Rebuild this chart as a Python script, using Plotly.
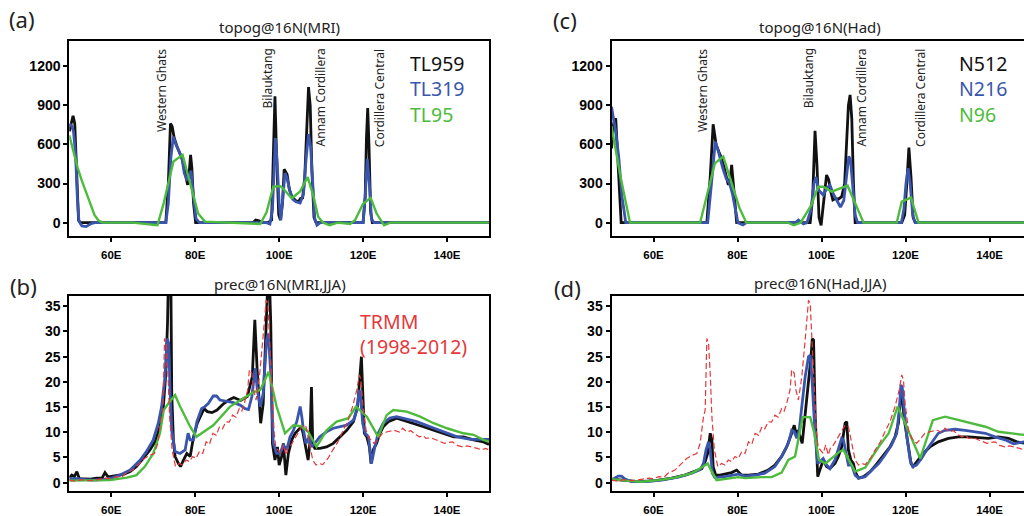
import plotly.graph_objects as go

# ---------------- topography along 16N (m) ----------------
# MRI model resolutions
A_LON_TL959 = [50.0, 50.5, 50.9, 51.3, 51.7, 52.2, 52.6, 73.0, 73.6, 74.1, 74.5, 75.0, 75.6, 76.3, 77.0, 77.6,
               78.2, 78.6, 78.9, 79.2, 79.6, 80.1, 93.8, 94.4, 95.2, 95.8, 97.4, 98.2, 98.6, 99.0, 99.4, 99.9,
               100.3, 100.8, 101.2, 101.6, 101.9, 102.4, 103.0, 103.9, 104.6, 105.1, 105.6, 106.1, 106.6, 107.0,
               107.4, 107.8, 108.3, 108.8, 120.0, 120.5, 120.8, 121.1, 121.4, 121.8, 122.2, 150.0]
A_VAL_TL959 = [700, 780, 820, 760, 450, 20, 0, 0, 300, 760, 740, 650, 590, 540, 480, 380,
               290, 400, 520, 420, 150, 0, 0, 20, 15, 0, 0, 20, 500, 970, 500, 60,
               20, 150, 410, 390, 370, 260, 200, 170, 160, 185, 190, 350, 800, 1040,
               900, 400, 40, 0, 0, 200, 650, 880, 600, 80, 0, 0]

A_LON_TL319 = [50.0, 50.6, 51.0, 51.5, 51.9, 52.3, 53.0, 54.0, 55.0, 56.0, 73.0, 73.6, 74.2, 74.8, 75.4, 76.0,
               76.8, 77.4, 78.0, 78.6, 79.0, 79.6, 80.2, 81.0, 97.0, 97.8, 98.4, 98.8, 99.1, 99.5, 100.0, 100.4,
               100.9, 101.4, 101.9, 102.5, 103.2, 104.0, 105.0, 105.8, 106.4, 107.0, 107.5, 108.0, 108.5, 109.0,
               109.8, 120.0, 120.5, 121.0, 121.5, 122.0, 122.6, 150.0]
A_VAL_TL319 = [760, 740, 700, 520, 200, 10, -25, -30, -10, 0, 0, 150, 500, 660, 600, 560,
               500, 380, 330, 340, 400, 200, 30, 0, 0, -10, 100, 400, 650, 480, 150, 20,
               200, 380, 340, 250, 180, 160, 150, 220, 480, 680, 580, 250, 30, -20,
               0, 0, 200, 490, 300, 30, 0, 0]

A_LON_TL95 = [50.0, 51.0, 52.0, 53.0, 54.0, 55.0, 56.0, 57.0, 58.0, 65.0, 71.0, 72.5, 74.8, 77.0, 79.0, 80.7,
              82.3, 88.0, 95.5, 97.0, 98.6, 100.3, 101.0, 103.0, 105.0, 106.8, 108.2, 109.3, 110.5, 112.0,
              114.0, 116.9, 118.1, 120.0, 121.8, 123.2, 125.0, 126.5, 150.0]
A_VAL_TL95 = [670, 540, 420, 320, 230, 140, 60, 15, 0, 0, -20, 150, 470, 520, 280, 70,
              8, 0, -10, 80, 276, 280, 260, 187, 240, 350, 200, 46, 0, -20,
              0, -10, 20, 145, 190, 72, -20, 0, 0]

# HadGEM model resolutions
C_LON_N512 = [50.0, 50.5, 51.0, 51.5, 52.3, 72.7, 73.5, 74.2, 74.9, 75.6, 76.2, 77.0, 77.8, 78.3, 78.6, 79.0,
              79.8, 96.0, 97.3, 97.9, 98.45, 98.9, 99.4, 99.9, 100.5, 101.2, 101.7, 102.1, 102.7, 103.3, 104.0,
              104.8, 105.5, 106.0, 106.4, 106.8, 107.2, 107.6, 108.0, 119.1, 119.8, 120.3, 120.8, 121.3, 121.8,
              122.3, 150.0]
C_VAL_N512 = [570, 760, 800, 450, 0, 0, 350, 755, 600, 540, 494, 400, 289, 350, 443, 300,
              0, 0, 0, 200, 704, 450, 40, -20, 150, 366, 330, 250, 175, 185, 180,
              200, 300, 600, 900, 980, 800, 300, 0, 0, 60, 300, 576, 350, 40,
              0, 0]

C_LON_N216 = [50.0, 50.5, 51.0, 51.7, 52.5, 53.4, 72.9, 73.8, 74.7, 75.3, 75.9, 76.5, 77.3, 78.1, 78.8, 79.5,
              80.1, 81.3, 82.1, 93.8, 94.5, 95.7, 96.5, 97.5, 98.2, 98.7, 99.3, 100.4, 101.2, 102.0, 102.8,
              103.5, 104.5, 105.3, 105.9, 106.5, 106.9, 107.4, 108.0, 108.6, 119.0, 119.6, 120.1, 120.6,
              121.1, 121.7, 122.3, 150.0]
C_VAL_N216 = [890, 800, 700, 510, 200, 0, 0, 300, 622, 563, 480, 417, 340, 302, 220, 110,
              0, -18, 0, 0, 20, -10, 0, 100, 300, 350, 250, 212, 260, 290, 220,
              180, 120, 170, 350, 510, 480, 300, 60, 0, 0, 100, 300, 417,
              300, 60, 0, 0]

C_LON_N96 = [50.0, 52.1, 54.4, 71.1, 74.6, 76.6, 80.5, 82.1, 92.0, 93.4, 95.0, 97.5, 99.2, 100.4, 102.4,
             106.2, 110.0, 117.9, 119.1, 121.3, 123.1, 150.0]
C_VAL_N96 = [740, 360, 0, 0, 455, 507, 110, 0, 0, -20, 0, 130, 276, 276, 238,
             284, 0, 0, 161, 192, 0, 0]

# ---------------- JJA precipitation along 16N (mm/day) ----------------
B_LON_TL959 = [50.0, 50.6, 51.2, 51.8, 52.4, 53.5, 55.0, 56.5, 57.8, 58.5,
               59.2, 59.7, 61.3, 62.9, 64.5, 66.0, 67.6, 69.2, 70.4, 71.6,
               72.4, 73.0, 73.4, 73.6, 74.2, 74.4, 74.8, 75.2, 76.0, 76.5,
               77.2, 78.0, 78.8, 79.2, 79.6, 80.5, 81.3, 82.1, 82.9, 84.0,
               85.2, 86.8, 88.0, 89.2, 90.8, 92.4, 93.6, 94.2, 94.8, 95.6,
               96.2, 96.8, 97.3, 97.7, 98.0, 98.4, 99.0, 99.6, 100.0, 100.6,
               101.0, 101.6, 102.2, 103.0, 103.8, 104.5, 105.3, 105.7, 106.4, 106.9,
               107.3, 107.7, 108.0, 108.5, 109.7, 111.3, 112.9, 114.5, 116.1, 117.7,
               118.7, 119.3, 119.6, 119.9, 120.3, 120.9, 121.5, 121.9, 122.4, 123.2,
               124.0, 124.8, 126.0, 128.0, 129.6, 132.0, 134.4, 136.8, 139.2, 141.6,
               143.9, 146.3, 148.7, 150.0]
B_VAL_TL959 = [1.0, 1.5, 1.2, 2.2, 0.8, 0.8, 0.7, 0.9, 0.9, 2.0,
               1.2, 1.2, 1.4, 1.65, 2.2, 3.2, 4.8, 6.5, 8.1, 11.1,
               15.0, 21.7, 31.6, 40.0, 40.0, 18.0, 8.5, 5.2, 3.8, 3.2,
               4.5, 5.8, 5.2, 6.8, 9.1, 11.8, 13.1, 14.7, 14.1, 13.9,
               14.4, 15.7, 16.4, 16.9, 16.3, 17.1, 21.0, 32.3, 21.7, 11.8,
               15.7, 28.3, 40.0, 40.0, 31.6, 7.8, 4.5, 7.1, 3.5, 5.2,
               7.8, 1.5, 5.8, 8.5, 9.8, 10.4, 11.1, 9.8, 6.5, 4.5,
               7.8, 19.0, 7.8, 6.8, 6.8, 7.1, 7.8, 9.1, 10.4, 12.1,
               15.1, 21.7, 25.0, 18.4, 9.8, 9.1, 7.1, 3.8, 6.5, 7.8,
               9.8, 11.1, 12.1, 12.8, 12.4, 11.8, 11.1, 10.4, 9.8, 9.1,
               9.1, 8.5, 8.1, 7.6]

B_LON_TL319 = [50.0, 52.0, 54.0, 55.7, 58.0, 60.0, 62.1, 64.5, 66.9, 68.4,
               70.0, 71.2, 72.0, 72.8, 73.3, 73.7, 74.0, 74.4, 75.2, 76.4,
               77.6, 78.3, 78.8, 79.6, 80.4, 81.5, 82.3, 83.1, 84.3, 85.1,
               85.9, 87.5, 89.1, 90.7, 91.9, 92.7, 93.5, 94.3, 94.8, 95.5,
               96.2, 97.0, 97.4, 98.0, 98.6, 99.4, 100.2, 101.0, 101.8, 102.6,
               103.4, 104.2, 105.0, 105.4, 105.8, 106.4, 107.2, 107.7, 108.5, 109.7,
               111.3, 112.9, 114.5, 116.1, 117.7, 118.5, 119.1, 119.4, 119.9, 120.5,
               121.3, 122.0, 122.8, 123.6, 124.8, 126.4, 128.0, 129.6, 132.8, 136.0,
               139.2, 142.4, 145.6, 148.7, 150.0]
B_VAL_TL319 = [0.8, 0.8, 0.6, 0.5, 0.6, 0.9, 1.5, 2.5, 4.5, 6.2,
               8.5, 11.8, 15.1, 21.0, 28.6, 27.6, 18.4, 10.4, 6.2, 5.8,
               6.5, 9.8, 8.5, 8.5, 12.1, 14.7, 15.1, 15.7, 17.2, 17.2,
               16.4, 16.1, 15.9, 15.4, 14.7, 14.5, 17.1, 22.7, 18.4, 15.1,
               17.7, 28.3, 29.6, 21.7, 7.8, 5.8, 5.8, 7.5, 6.5, 9.1,
               10.4, 12.1, 15.1, 13.1, 10.4, 7.8, 9.1, 7.1, 7.8, 9.1,
               10.1, 10.8, 11.1, 11.4, 12.4, 14.4, 18.4, 17.1, 11.8, 9.8,
               9.1, 3.8, 7.1, 9.8, 11.8, 12.8, 13.1, 12.8, 12.1, 11.1,
               10.1, 9.1, 8.6, 8.6, 8.6]

B_LON_TL95 = [50.0, 55.7, 59.7, 63.7, 66.0, 68.0, 70.0, 71.6, 72.5, 73.6,
              75.2, 76.4, 78.8, 80.3, 84.3, 88.3, 92.4, 94.0, 95.5, 97.5,
              99.4, 101.4, 103.4, 105.3, 106.9, 108.9, 111.3, 113.7, 116.5, 118.3,
              120.9, 123.6, 125.6, 127.2, 130.4, 133.6, 136.8, 140.0, 143.9, 146.3,
              148.7, 150.0]
B_VAL_TL95 = [0.4, 0.4, 0.5, 1.0, 1.5, 3.2, 5.8, 9.8, 14.4, 15.7,
              17.4, 15.1, 11.1, 9.1, 11.4, 15.1, 17.1, 18.0, 18.4, 22.0,
              15.1, 9.8, 11.4, 11.2, 10.1, 7.1, 10.4, 12.1, 12.8, 15.1,
              13.1, 9.1, 13.4, 14.4, 14.1, 13.1, 11.8, 10.8, 9.8, 9.5,
              8.5, 8.1]

D_LON_N512 = [50.0, 53.2, 56.4, 60.4, 64.3, 67.5, 69.9, 71.5, 72.3, 72.9,
              73.5, 73.9, 74.2, 74.8, 75.8, 77.0, 78.6, 79.8, 80.2, 81.0,
              82.6, 85.0, 87.3, 88.9, 90.5, 91.7, 92.9, 93.5, 93.9, 94.3,
              94.9, 95.4, 95.8, 96.4, 97.0, 97.5, 97.8, 98.1, 98.5, 99.1,
              99.6, 100.4, 101.2, 102.0, 103.2, 104.0, 104.8, 105.2, 105.6, 106.0,
              106.4, 107.0, 107.6, 108.0, 108.8, 110.0, 111.6, 113.2, 114.7, 116.3,
              117.5, 118.3, 118.9, 119.2, 119.6, 120.1, 120.7, 121.3, 121.8, 123.0,
              124.2, 125.8, 127.8, 130.2, 132.6, 135.0, 137.4, 139.7, 142.1, 144.5,
              146.5, 148.1, 150.0]
D_VAL_N512 = [0.7, 0.4, 0.2, 0.4, 0.9, 1.5, 2.2, 2.8, 4.2, 5.8,
              9.8, 8.5, 3.2, 1.5, 1.5, 1.7, 2.0, 2.5, 2.2, 1.5,
              1.5, 1.7, 2.5, 3.5, 5.2, 7.1, 9.8, 11.4, 9.8, 10.4,
              9.1, 7.8, 11.1, 15.7, 20.4, 25.0, 28.6, 28.3, 13.1, 1.2,
              2.5, 4.5, 3.2, 2.8, 3.8, 5.2, 7.1, 9.1, 11.8, 12.1,
              6.5, 4.5, 3.8, 2.2, 0.9, 1.2, 2.2, 3.8, 5.5, 7.1,
              9.1, 11.8, 17.1, 18.4, 13.1, 10.4, 6.5, 3.8, 3.2, 4.5,
              5.8, 7.1, 8.1, 8.8, 9.1, 9.1, 9.0, 8.8, 9.1, 8.8,
              8.1, 7.9, 7.6]

D_LON_N216 = [50.0, 50.8, 51.6, 52.4, 53.2, 54.8, 58.0, 61.9, 65.9, 69.1,
              71.1, 71.9, 72.5, 73.1, 73.5, 74.0, 74.6, 77.0, 79.4, 80.2,
              81.8, 84.2, 86.5, 88.9, 90.5, 92.1, 92.9, 93.5, 94.1, 94.7,
              95.3, 96.1, 96.9, 97.3, 97.7, 98.0, 98.5, 99.1, 99.9, 100.4,
              101.2, 102.0, 103.2, 104.0, 104.8, 105.2, 105.8, 106.4, 107.2, 108.0,
              108.8, 110.4, 112.0, 113.6, 115.1, 116.7, 117.9, 118.5, 118.9, 119.2,
              119.7, 120.3, 121.1, 121.7, 122.6, 123.8, 125.0, 126.6, 127.8, 129.4,
              131.8, 134.2, 136.6, 139.0, 141.3, 143.7, 145.7, 147.3, 148.1, 150.0]
D_VAL_N216 = [0.5, 0.9, 1.3, 1.3, 0.7, 0.2, 0.2, 0.5, 1.1, 1.9,
              2.6, 3.8, 6.5, 8.1, 6.5, 1.9, 1.0, 1.2, 1.5, 1.7,
              1.3, 1.5, 1.9, 3.2, 5.2, 7.8, 10.4, 10.1, 8.8, 10.4,
              15.1, 21.0, 25.0, 25.3, 21.0, 17.0, 9.0, 3.8, 4.5, 4.8,
              3.5, 2.8, 4.5, 6.5, 8.8, 8.5, 5.8, 3.5, 3.5, 1.5,
              0.9, 1.2, 2.5, 3.8, 5.5, 7.5, 9.8, 14.4, 19.4, 19.0,
              14.4, 9.1, 4.5, 3.2, 3.5, 4.8, 6.5, 8.5, 9.8, 10.4,
              10.6, 10.4, 10.1, 9.8, 9.1, 8.5, 7.7, 7.9, 8.1, 8.0]

D_LON_N96 = [50.0, 53.2, 57.2, 61.2, 65.1, 69.1, 71.1, 72.9, 73.5, 75.0,
             80.2, 81.8, 85.8, 88.1, 90.5, 92.1, 93.7, 95.5, 97.3, 98.3,
             99.4, 100.9, 104.4, 105.2, 108.0, 110.4, 113.6, 116.0, 118.1, 119.9,
             123.5, 126.5, 129.4, 132.6, 135.8, 139.0, 142.1, 145.3, 148.1, 150.0]
D_VAL_N96 = [0.7, 0.4, 0.2, 0.5, 1.0, 1.9, 2.8, 3.8, 2.8, 0.5,
             1.1, 0.9, 1.1, 1.1, 2.0, 4.5, 5.2, 13.0, 13.0, 9.8,
             4.5, 3.8, 6.2, 6.5, 2.2, 3.0, 7.1, 9.8, 15.1, 11.8,
             4.8, 12.4, 13.1, 12.4, 11.8, 11.1, 10.1, 9.8, 9.5, 9.3]

# TRMM observation (1998-2012), shown in both precipitation panels
TRMM_LON = [50.0, 51.5, 53.0, 54.5, 56.0, 57.5, 58.8, 60.0, 61.2, 62.5,
            63.5, 65.1, 66.7, 67.9, 69.1, 70.3, 71.1, 71.9, 72.3, 72.7,
            73.1, 73.5, 73.9, 74.5, 75.3, 76.2, 77.0, 77.8, 78.6, 79.4,
            80.2, 81.0, 81.8, 82.6, 83.4, 84.2, 85.0, 85.8, 86.5, 87.3,
            88.1, 88.9, 89.7, 90.5, 91.1, 91.7, 92.5, 92.9, 93.5, 93.9,
            94.5, 95.3, 96.1, 96.9, 97.3, 97.8, 98.3, 98.8, 99.2, 100.4,
            101.0, 101.6, 102.2, 102.8, 104.0, 104.8, 105.6, 106.4, 107.2, 108.0,
            108.8, 109.6, 110.4, 111.6, 112.8, 114.0, 115.1, 116.3, 117.5, 118.5,
            119.1, 119.5, 119.9, 120.7, 121.5, 122.6, 123.4, 124.6, 125.8, 127.4,
            128.8, 129.4, 130.4, 131.4, 132.4, 133.4, 134.4, 135.0, 136.2, 137.4,
            138.4, 139.4, 140.4, 141.3, 142.4, 143.7, 144.8, 146.1, 147.2, 148.3,
            149.2, 150.0]
TRMM_VAL = [0.5, 0.3, 0.6, 0.4, 0.5, 0.7, 0.9, 0.8, 1.2, 1.1,
            1.9, 2.5, 3.8, 4.8, 5.4, 5.8, 7.8, 13.1, 14.4, 28.6,
            27.6, 21.7, 13.1, 6.5, 3.2, 3.8, 3.5, 4.5, 4.2, 5.2,
            4.8, 6.2, 5.8, 8.1, 7.6, 9.8, 9.4, 11.1, 10.7, 12.1,
            12.0, 13.4, 13.0, 14.7, 14.2, 15.7, 18.4, 22.4, 21.7, 18.4,
            16.4, 21.0, 28.3, 36.2, 35.6, 28.3, 18.4, 10.0, 7.0, 5.8,
            7.5, 5.5, 7.1, 7.4, 9.1, 10.4, 11.4, 11.1, 7.8, 4.5,
            3.5, 3.8, 3.6, 4.8, 6.5, 8.1, 10.1, 12.1, 15.1, 18.4,
            21.4, 20.4, 15.7, 10.4, 8.8, 7.8, 8.5, 9.8, 10.1, 10.4,
            10.0, 10.8, 10.1, 10.3, 9.6, 9.1, 9.3, 8.8, 8.9, 8.5,
            8.1, 7.8, 8.0, 8.1, 7.4, 7.1, 7.3, 7.1, 6.8, 6.5,
            6.8, 6.5]

# axis ticks
LON_TICKS = [60, 80, 100, 120, 140]
LON_LABELS = ["60E", "80E", "100E", "120E", "140E"]
TOPO_TICKS = [0, 300, 600, 900, 1200]
PREC_TICKS = [0, 5, 10, 15, 20, 25, 30, 35]

# mountain ranges crossed by 16N
RANGES_MRI = [("Western Ghats", 71.8), ("Bilauktang", 97.3), ("Annam Cordillera", 109.9),
              ("Cordillera Central", 123.9)]
RANGES_HAD = [("Western Ghats", 71.5), ("Bilauktang", 96.9), ("Annam Cordillera", 109.6),
              ("Cordillera Central", 123.5)]

MRI_KEYS = ["TL959", "TL319", "TL95"]
HAD_KEYS = ["N512", "N216", "N96"]

BLACK = "#111111"
BLUE = "#3a55ad"
GREEN = "#4dbb3c"
RED = "#e5383b"

W, H = 1024, 516

fig = go.Figure()


def add_line(lon, val, color, ax, width=2.8, dash=None):
    fig.add_trace(go.Scatter(
        x=lon, y=val, mode="lines", xaxis="x" + ax, yaxis="y" + ax,
        line=dict(color=color, width=width, dash=dash), hoverinfo="skip", showlegend=False))


# (a) topography, MRI
add_line(A_LON_TL959, A_VAL_TL959, BLACK, "")
add_line(A_LON_TL319, A_VAL_TL319, BLUE, "")
add_line(A_LON_TL95, A_VAL_TL95, GREEN, "", width=2.4)
# (b) precipitation, MRI
add_line(B_LON_TL959, B_VAL_TL959, BLACK, "2")
add_line(B_LON_TL319, B_VAL_TL319, BLUE, "2")
add_line(B_LON_TL95, B_VAL_TL95, GREEN, "2", width=2.4)
add_line(TRMM_LON, TRMM_VAL, RED, "2", width=1.2, dash="6px,3px")
# (c) topography, HadGEM
add_line(C_LON_N512, C_VAL_N512, BLACK, "3")
add_line(C_LON_N216, C_VAL_N216, BLUE, "3")
add_line(C_LON_N96, C_VAL_N96, GREEN, "3", width=2.4)
# (d) precipitation, HadGEM
add_line(D_LON_N512, D_VAL_N512, BLACK, "4")
add_line(D_LON_N216, D_VAL_N216, BLUE, "4")
add_line(D_LON_N96, D_VAL_N96, GREEN, "4", width=2.4)
add_line(TRMM_LON, TRMM_VAL, RED, "4", width=1.2, dash="6px,3px")

LEFT_X = [69.3 / W, 489.0 / W]
RIGHT_X = [611.5 / W, 1.0]
TOP_Y = [1 - 235.7 / H, 1 - 40.7 / H]
BOT_Y = [1 - 491.0 / H, 1 - 295.7 / H]

tick_x_font = dict(family="Liberation Sans", size=11.5, color="black", weight="bold")
tick_y_font = dict(family="Liberation Sans", size=14, color="black", weight="bold")


def xaxis(domain, anchor, rng):
    return dict(domain=domain, anchor=anchor, range=rng, tickvals=LON_TICKS, ticktext=LON_LABELS,
                showline=True, linecolor="black", linewidth=2, mirror=True, ticks="outside",
                ticklen=4, tickwidth=1.5, tickcolor="black", showgrid=False, zeroline=False,
                tickfont=tick_x_font, ticklabelstandoff=3)


def yaxis(domain, anchor, rng, ticks, mirror):
    return dict(domain=domain, anchor=anchor, range=rng, tickvals=ticks,
                showline=True, linecolor="black", linewidth=2, mirror=mirror, ticks="outside",
                ticklen=4, tickwidth=1.5, tickcolor="black", showgrid=False, zeroline=False,
                tickfont=tick_y_font)


fig.update_layout(
    width=W, height=H, margin=dict(l=0, r=0, t=0, b=0),
    paper_bgcolor="white", plot_bgcolor="white", showlegend=False,
    xaxis=xaxis(LEFT_X, "y", [50, 150]),
    yaxis=yaxis(TOP_Y, "x", [-100, 1396], TOPO_TICKS, True),
    xaxis2=xaxis(LEFT_X, "y2", [50, 150]),
    yaxis2=yaxis(BOT_Y, "x2", [-1.65, 37.1], PREC_TICKS, True),
    xaxis3=xaxis(RIGHT_X, "y3", [50, 148.2]),
    yaxis3=yaxis(TOP_Y, "x3", [-100, 1396], TOPO_TICKS, False),
    xaxis4=xaxis(RIGHT_X, "y4", [50, 148.2]),
    yaxis4=yaxis(BOT_Y, "x4", [-1.65, 37.1], PREC_TICKS, False),
)

ann = []


def text(s, px, py, size, color="#222222", xanchor="center", yanchor="middle"):
    ann.append(dict(text=s, x=px / W, y=1 - py / H, xref="paper", yref="paper", showarrow=False,
                    xanchor=xanchor, yanchor=yanchor, align="left", borderpad=0,
                    font=dict(family="Noto Sans", size=size, color=color)))


# panel letters and titles
text("(a)", 21.5, 19, 22)
text("(b)", 23, 286, 22)
text("(c)", 565, 20, 22)
text("(d)", 567, 288, 22)
text("topog@16N(MRI)", 279, 27, 15)
text("prec@16N(MRI,JJA)", 279.5, 284.3, 15)
text("topog@16N(Had)", 820.3, 27, 15)
text("prec@16N(Had,JJA)", 820, 283.3, 15)

# series keys, one coloured line per resolution
KEY_COLORS = [BLACK, BLUE, GREEN]


def key_block(labels):
    return "<br>".join('<span style="color:%s">%s</span>' % (c, s) for s, c in zip(labels, KEY_COLORS))


text(key_block(MRI_KEYS), 409, 89, 19.5, BLACK, "left")
text(key_block(HAD_KEYS), 958, 89, 19.5, BLACK, "left")
text("TRMM<br>(1998-2012)", 359, 333.5, 19.5, RED, "left")

# mountain range names, written upward above each peak
for names, ax in [(RANGES_MRI, ""), (RANGES_HAD, "3")]:
    for name, lon in names:
        ann.append(dict(text=name, x=lon, y=1350, xref="x" + ax, yref="y" + ax, showarrow=False,
                        textangle=-90, xanchor="center", yanchor="top",
                        font=dict(family="Noto Sans", size=12, color="#222222")))

fig.update_layout(annotations=ann)
fig.write_html("out.html")
